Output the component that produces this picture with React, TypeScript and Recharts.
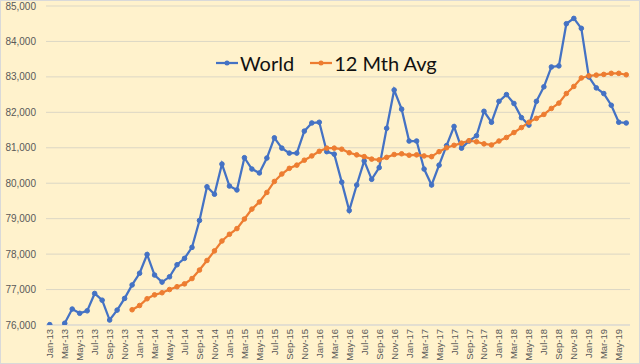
import React from "react";
import { LineChart, CartesianGrid, XAxis, YAxis, Legend, Line } from "recharts";

const MONTHS = ["Jan", "Feb", "Mar", "Apr", "May", "Jun", "Jul", "Aug", "Sep", "Oct", "Nov", "Dec"];
const YEARS = ["13", "14", "15", "16", "17", "18", "19"];
const categories = YEARS.flatMap((y) => MONTHS.map((m) => `${m}-${y}`)).slice(0, 78);

const world = [
  76010, 75800, 76050, 76450, 76330, 76400, 76890, 76700, 76140, 76420, 76750, 77130,
  77460, 77990, 77410, 77210, 77360, 77700, 77880, 78190, 78950, 79900, 79690, 80540,
  79920, 79810, 80720, 80400, 80290, 80710, 81280, 80990, 80850, 80850, 81470, 81700,
  81720, 80890, 80820, 80030, 79230, 79950, 80630, 80110, 80440, 81550, 82630, 82090,
  81190, 81190, 80400, 79950, 80510, 81060, 81600, 80990, 81190, 81340, 82030, 81720,
  82310, 82500, 82250, 81850, 81640, 82310, 82720, 83280, 83310, 84500, 84650, 84370,
  83000, 82690, 82530, 82200, 81720, 81700,
];

const avg12 = [
  null, null, null, null, null, null, null, null, null, null, null, 76430,
  76550, 76740, 76850, 76910, 77000, 77080, 77160, 77310, 77550, 77820, 78090, 78370,
  78560, 78720, 78990, 79270, 79470, 79740, 80050, 80260, 80420, 80510, 80650, 80770,
  80900, 80990, 80990, 80960, 80860, 80800, 80750, 80680, 80660, 80730, 80810, 80830,
  80790, 80800, 80770, 80750, 80890, 81000, 81070, 81130, 81200, 81170, 81110, 81080,
  81190, 81290, 81430, 81570, 81720, 81830, 81940, 82110, 82260, 82530, 82730, 82970,
  83030, 83050, 83070, 83100, 83100, 83060,
];

const yTicks = [76000, 77000, 78000, 79000, 80000, 81000, 82000, 83000, 84000, 85000];

const rows = categories.map((month, i) => ({ month, world: world[i], avg: avg12[i] }));

const BLUE = "#4472C4";
const ORANGE = "#ED7D31";
const FONT = "'Liberation Sans', Arial, sans-serif";

const XTick = (props: any) => {
  const { x, y, payload } = props;
  return (
    <text
      transform={`translate(${x},${y - 2}) rotate(-90)`}
      textAnchor="end"
      dominantBaseline="central"
      fontSize={9.5}
      fontFamily={FONT}
      fill="#595959"
    >
      {payload.value}
    </text>
  );
};

const legendItems = [
  { label: "World", color: BLUE },
  { label: "12 Mth Avg", color: ORANGE },
];

const renderLegend = () => (
  <div style={{ display: "flex", alignItems: "center", fontFamily: "Lato, sans-serif", fontSize: 20, color: "#111" }}>
    {legendItems.map((it, i) => (
      <div key={it.label} style={{ display: "flex", alignItems: "center", marginRight: i === 0 ? 16 : 0 }}>
        <svg width={22} height={10} style={{ marginRight: 2 }}>
          <line x1={0} y1={5} x2={22} y2={5} stroke={it.color} strokeWidth={2.25} />
          <circle cx={11} cy={5} r={2.5} fill={it.color} />
        </svg>
        <span>{it.label}</span>
      </div>
    ))}
  </div>
);

export default function App() {
  return (
    <div
      style={{
        position: "fixed",
        left: 0,
        top: 0,
        width: 640,
        height: 364,
        background: "#FFF2CC",
        border: "1px solid #D9D9D9",
        boxSizing: "border-box",
      }}
    >
      <LineChart
        width={638}
        height={362}
        data={rows}
        margin={{ top: 6, right: 8, left: 0, bottom: 0 }}
        style={{ position: "absolute", left: -1, top: -1 }}
      >
        <CartesianGrid vertical={false} stroke="#DCD7C5" strokeWidth={1} />
        <XAxis
          dataKey="month"
          interval={1}
          height={37}
          padding={{ left: 3.75, right: 3.75 }}
          tick={<XTick />}
          tickSize={4}
          tickMargin={2}
          tickLine={false}
          axisLine={{ stroke: "#D9D9D9" }}
        />
        <YAxis
          width={46}
          domain={[76000, 85000]}
          ticks={yTicks}
          allowDataOverflow
          axisLine={false}
          tickLine={false}
          tickMargin={4}
          tick={{ fontSize: 10, fontFamily: FONT, fill: "#595959" }}
          tickFormatter={(v: number) => v.toLocaleString("en-US")}
        />
        <Legend
          verticalAlign="middle"
          align="center"
          layout="horizontal"
          content={renderLegend}
          wrapperStyle={{ top: 51, left: 216, width: 240, bottom: "auto", right: "auto" }}
        />
        <Line
          type="linear"
          dataKey="world"
          stroke={BLUE}
          strokeWidth={2.25}
          dot={{ r: 2.3, fill: BLUE, stroke: BLUE, strokeWidth: 1 }}
          isAnimationActive={false}
        />
        <Line
          type="linear"
          dataKey="avg"
          stroke={ORANGE}
          strokeWidth={2.25}
          dot={{ r: 2.3, fill: ORANGE, stroke: ORANGE, strokeWidth: 1 }}
          isAnimationActive={false}
        />
      </LineChart>
    </div>
  );
}
